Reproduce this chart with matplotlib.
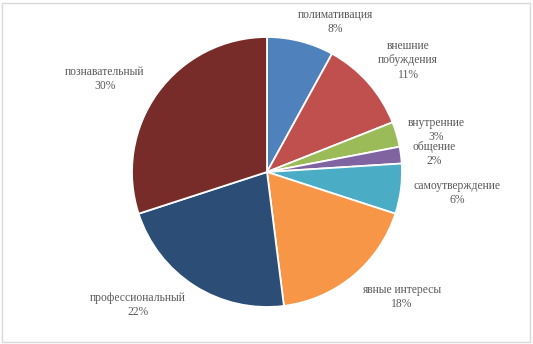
import matplotlib.pyplot as plt
from matplotlib.patches import Rectangle

# Data (clockwise from the top)
labels = ['полимативация', 'внешние\nпобуждения', 'внутренние', 'общение',
          'самоутверждение', 'явные интересы', 'профессиональный', 'познавательный']
values = [8, 11, 3, 2, 6, 18, 22, 30]
colors = ['#4F81BD', '#C0504D', '#9BBB59', '#8064A2',
          '#4BACC6', '#F79646', '#2C4D75', '#772C2A']

# label anchor points (pixels, top-left origin) of the first text line
label_pos = [(335, 15), (408, 47), (436, 123), (434, 147),
             (457, 186), (402, 290), (138, 298), (105, 72)]

W, H = 533, 344
fig = plt.figure(figsize=(W / 100, H / 100), dpi=100)
ax = fig.add_axes([0, 0, 1, 1])

ax.pie(values, colors=colors, startangle=90, counterclock=False,
       center=(267, H - 172), radius=135, frame=True,
       wedgeprops=dict(edgecolor='white', linewidth=1.3))
ax.set_xlim(0, W)
ax.set_ylim(0, H)
ax.axis('off')

line_h = 13.5
for lab, v, (px, py) in zip(labels, values, label_pos):
    n = lab.count('\n') + 1
    txt = lab + '\n' + f'{v}%'
    cy = py + n * line_h / 2
    ax.text(px, H - cy, txt, ha='center', va='center', fontsize=8.4,
            family='Liberation Serif', color='#595959', linespacing=1.25)

fig.add_artist(Rectangle((0.004, 0.006), 0.99, 0.985, transform=fig.transFigure,
                         fill=False, edgecolor='#d9d9d9', linewidth=1))

fig.savefig('out.png', dpi=100)
